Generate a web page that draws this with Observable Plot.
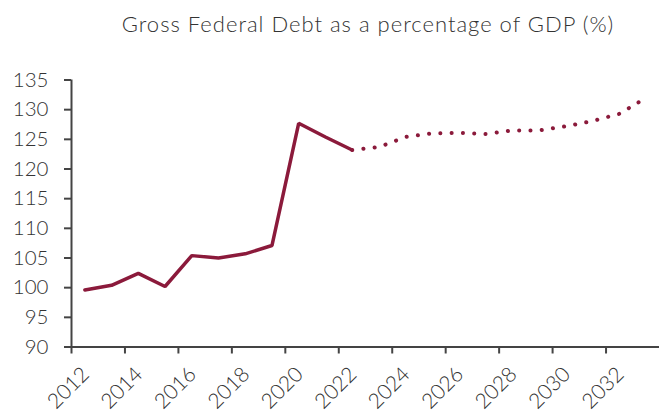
<!DOCTYPE html>
<html><head><meta charset="utf-8">
<script src="https://cdn.jsdelivr.net/npm/d3@7"></script>
<script src="https://cdn.jsdelivr.net/npm/@observablehq/plot@0.6"></script>
<style>
body{margin:0;background:#fff;font-family:Lato,sans-serif;}
#title{height:55px;width:659px;box-sizing:border-box;padding-left:77px;text-align:center;font-size:22px;font-weight:300;letter-spacing:1px;color:#333;line-height:48px;white-space:nowrap;}
#chart svg{display:block;}
</style></head><body>
<div id="title">Gross Federal Debt as a percentage of GDP (%)</div>
<div id="chart"></div>
<script>
const actualYears = [2012,2013,2014,2015,2016,2017,2018,2019,2020,2021,2022];
const actualValues = [99.6,100.4,102.4,100.2,105.4,105.0,105.7,107.1,127.7,125.4,123.2];
const projYears = [2022,2023,2024,2025,2026,2027,2028,2029,2030,2031,2032,2033];
const projValues = [123.2,123.7,125.4,126.0,126.1,125.9,126.5,126.5,127.2,128.1,129.3,132.0];
const yTicks = [90,95,100,105,110,115,120,125,130,135];
const xTicks = [2012,2014,2016,2018,2020,2022,2024,2026,2028,2030,2032];

const color = "#8b1a3b";
const axisColor = "#444";
const actual = actualYears.map((y,i)=>({x:y+0.5, v:actualValues[i]}));
const proj = projYears.map((y,i)=>({x:y+0.5, v:projValues[i]}));

const chart = Plot.plot({
  width: 659, height: 359,
  marginLeft: 71, marginRight: 0, marginTop: 24.5, marginBottom: 67.5,
  x: {domain: [2012, 2034], axis: null},
  y: {domain: [90, 135], axis: null},
  style: {fontFamily: "Lato, sans-serif", fontSize: "20px", fontWeight: 300, color: "#333", background: "#fff"},
  marks: [
    Plot.axisY(yTicks, {tickSize: 7, tickPadding: 16, stroke: axisColor, strokeWidth: 2, fill: "#333", fontSize: 20.5, fontWeight: 300, label: null}),
    Plot.axisX(xTicks, {tickSize: 7, tickFormat: () => "", stroke: axisColor, strokeWidth: 2, label: null}),
    Plot.text(xTicks, {x: d=>d, y: 90, text: d=>String(d), rotate: -45, textAnchor: "middle", lineAnchor: "middle", dx: -3, dy: 41, fill: "#333", fontSize: 21, fontWeight: 300}),
    Plot.ruleX([2012], {y1: 90, y2: 135, stroke: axisColor, strokeWidth: 2}),
    Plot.ruleY([90], {stroke: axisColor, strokeWidth: 2}),
    Plot.line(actual, {x: "x", y: "v", stroke: color, strokeWidth: 3.5, strokeLinecap: "round", strokeLinejoin: "miter"}),
    Plot.line(proj, {x: "x", y: "v", stroke: color, strokeWidth: 4, strokeLinecap: "round", strokeDasharray: "0.1 11.2"})
  ]
});
document.getElementById("chart").appendChild(chart);
</script>
</body></html>
